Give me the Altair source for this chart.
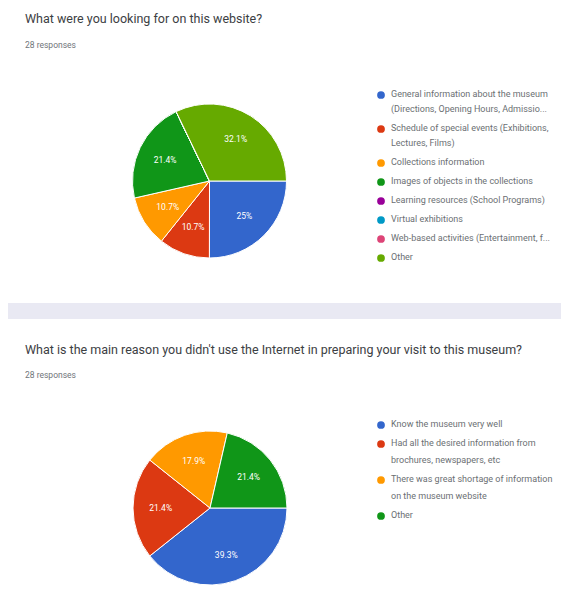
import math
import altair as alt
import pandas as pd

# ---------------- data ----------------
title1 = "What were you looking for on this website?"
title2 = "What is the main reason you didn't use the Internet in preparing your visit to this museum?"
responses1 = "28 responses"
responses2 = "28 responses"

cats1 = [
    "General information about the museum\n(Directions, Opening Hours, Admissio...",
    "Schedule of special events (Exhibitions,\nLectures, Films)",
    "Collections information",
    "Images of objects in the collections",
    "Learning resources (School Programs)",
    "Virtual exhibitions",
    "Web-based activities (Entertainment, f...",
    "Other",
]
vals1 = [25.0, 10.7, 10.7, 21.4, 0.0, 0.0, 0.0, 32.1]

cats2 = [
    "Know the museum very well",
    "Had all the desired information from\nbrochures, newspapers, etc",
    "There was great shortage of information\non the museum website",
    "Other",
]
vals2 = [39.3, 21.4, 17.9, 21.4]

# ---------------- styles ----------------
colors1 = ["#3366cc", "#dc3912", "#ff9900", "#109618", "#990099", "#0099c6", "#dd4477", "#66aa00"]
colors2 = ["#3366cc", "#dc3912", "#ff9900", "#109618"]
FONT = "Roboto"
W, H = 553, 584
R = 77

df1 = pd.DataFrame({"cat": cats1, "val": vals1, "idx": list(range(len(cats1)))})
df2 = pd.DataFrame({"cat": cats2, "val": vals2, "idx": list(range(len(cats2)))})

theta_scale = alt.Scale(range=[math.pi / 2, math.pi / 2 + 2 * math.pi])


def pie(df, cats, colors, cx, cy):
    base = alt.Chart(df).encode(
        theta=alt.Theta("val:Q", stack=True, scale=theta_scale),
        order=alt.Order("idx:Q", sort="ascending"),
    )
    arcs = base.mark_arc(outerRadius=R, stroke="white", strokeWidth=1).encode(
        color=alt.Color("cat:N", scale=alt.Scale(domain=cats, range=colors), legend=None),
        x=alt.value(cx),
        y=alt.value(cy),
    )
    labels = base.mark_text(
        radius=R * 0.64, font=FONT, fontSize=8.5, color="white"
    ).encode(
        text=alt.Text("lab:N"),
        x=alt.value(cx),
        y=alt.value(cy),
        opacity=alt.condition("datum.val > 0", alt.value(1), alt.value(0)),
    ).transform_calculate(lab="format(datum.val, '.3~r') + '%'")
    return [arcs, labels]


def legend(df, cats, colors, x0, y0, lh, gap):
    base = alt.Chart(df).transform_calculate(
        nl="length(split(datum.cat, '\\n'))"
    ).transform_window(
        cum="sum(nl)", sort=[alt.SortField("idx")], frame=[None, 0]
    ).transform_calculate(
        ypos=f"{y0} + (datum.cum - datum.nl) * {lh} + datum.idx * {gap}"
    ).encode(y=alt.Y("ypos:Q", scale=None))
    pts = base.mark_circle(size=60, opacity=1).encode(
        x=alt.value(x0),
        color=alt.Color("cat:N", scale=alt.Scale(domain=cats, range=colors), legend=None),
    )
    txt = base.mark_text(
        align="left", baseline="top", dy=-5, font=FONT, fontSize=9,
        lineBreak="\n", lineHeight=lh, color="#6b6f73",
    ).encode(x=alt.value(x0 + 10), text="cat:N")
    return [pts, txt]


def text_at(s, x, y, size, color):
    return alt.Chart().mark_text(
        align="left", baseline="middle", font=FONT, fontSize=size, color=color
    ).encode(x=alt.value(x), y=alt.value(y), text=alt.value(s))


band = alt.Chart().mark_rect(color="#e9e9f3").encode(
    x=alt.value(0), x2=alt.value(W), y=alt.value(295), y2=alt.value(311)
)

layers = [band,
          text_at(title1, 17, 11, 12.5, "#3c4043"),
          text_at(responses1, 17, 37, 8.5, "#70757a"),
          text_at(title2, 17, 342, 12.5, "#3c4043"),
          text_at(responses2, 17, 367, 8.5, "#70757a")]
layers += pie(df1, cats1, colors1, 201.5, 173)
layers += legend(df1, cats1, colors1, 373, 87, 15, 4)
layers += pie(df2, cats2, colors2, 202, 500)
layers += legend(df2, cats2, colors2, 373, 417, 17, 2)

chart = alt.layer(*layers).resolve_scale(
    color="independent", theta="independent"
).properties(
    width=W, height=H, autosize=alt.AutoSizeParams(type="none"), padding=0,
    background="white",
).configure_view(stroke=None)

chart.save("out.html", embed_options={"renderer": "svg", "actions": False})
